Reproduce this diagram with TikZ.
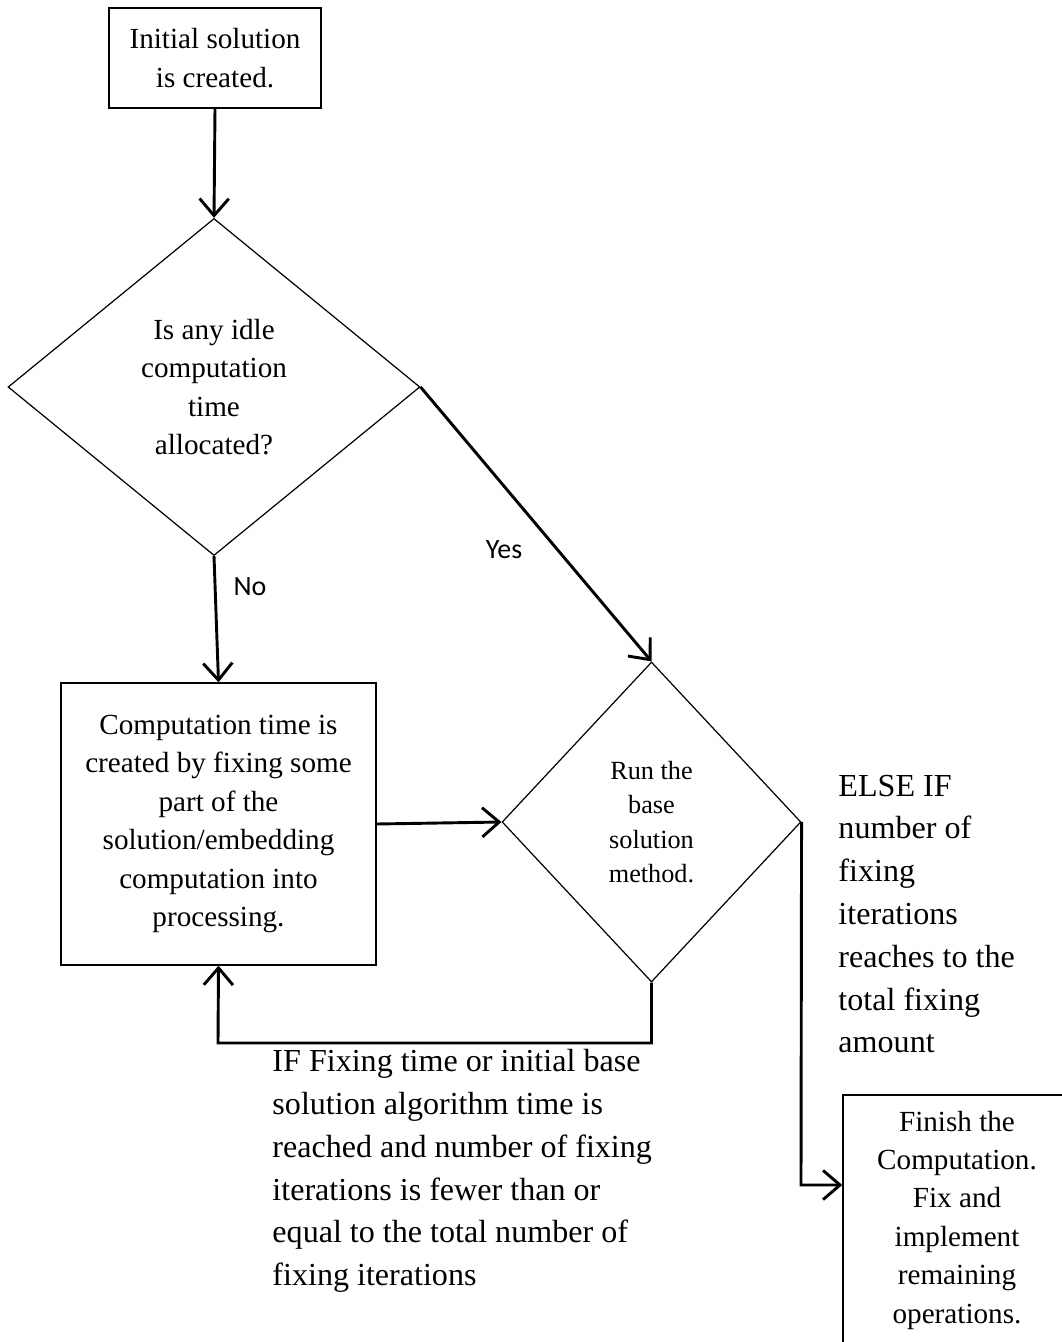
\documentclass[tikz,border=0pt]{standalone}
\usepackage{fontspec}
\setmainfont{Liberation Serif}
\newfontfamily\labelfont{Carlito}
\usetikzlibrary{shapes.geometric,arrows.meta,positioning}

\tikzset{
  box/.style={draw, line width=0.6pt, align=center, inner sep=0pt, font=\fontsize{12}{15.8}\selectfont},
  decision/.style={draw, diamond, line width=0.5pt, align=center, inner sep=0pt},
  arr/.style={line width=1.2pt, -{Straight Barb[length=7pt,width=12pt]}},
  note/.style={align=left, anchor=west, inner sep=0pt, font=\fontsize{13.2}{17.6}\selectfont},
  answer/.style={inner sep=0pt, font=\labelfont\fontsize{11.5}{13}\selectfont}
}

\begin{document}
\begin{tikzpicture}[x=0.4115pt, y=-0.4115pt]
\clip (0,0) rectangle (1062,1342);

% Start box
\node[box, minimum width=87.2pt, minimum height=41.2pt] (init) at (215,58) {Initial solution\\is created.};

% First decision
\node[decision, minimum width=169.5pt, minimum height=138.7pt, font=\fontsize{12}{15.8}\selectfont] (idle) at (214,387)
  {Is any idle\\computation\\time\\allocated?};

% Fixing box
\node[box, minimum width=129.6pt, minimum height=116pt] (fixing) at (218.5,824)
  {Computation time is\\created by fixing some\\part of the\\solution/embedding\\computation into\\processing.};

% Second decision
\node[decision, minimum width=123pt, minimum height=131.7pt, font=\fontsize{10.8}{14.2}\selectfont] (base) at (651.5,822)
  {Run the\\base\\solution\\method.};

% End box (runs off the page)
\node[box, minimum width=93.8pt, minimum height=102.9pt] (finish) at (957,1220)
  {Finish the\\Computation.\\Fix and\\implement\\remaining\\operations.};

% Conditions
\node[note] (elseif) at (838,914)
  {ELSE IF\\number of\\fixing\\iterations\\reaches to the\\total fixing\\amount};
\node[note] (ifcond) at (272,1171)
  {IF Fixing time or initial base\\solution algorithm time is\\reached and number of fixing\\iterations is fewer than or\\equal to the total number of\\fixing iterations};

% Answers
\node[answer] (no) at (250,587) {No};
\node[answer] (yes) at (504,550) {Yes};

% Connectors
\coordinate (back) at (218,1043);
\coordinate (drop) at (801,1185);
\draw[arr] (init.south) -- (idle.north);
\draw[arr] (idle.south) -- (fixing.north);
\draw[arr] (idle.east) -- (base.north);
\draw[arr] (fixing.east) -- (base.west);
\draw[arr] (base.south) |- (back) -- (fixing.south);
\draw[arr] (base.east) -- (drop) -- (drop -| finish.west);
\end{tikzpicture}
\end{document}
